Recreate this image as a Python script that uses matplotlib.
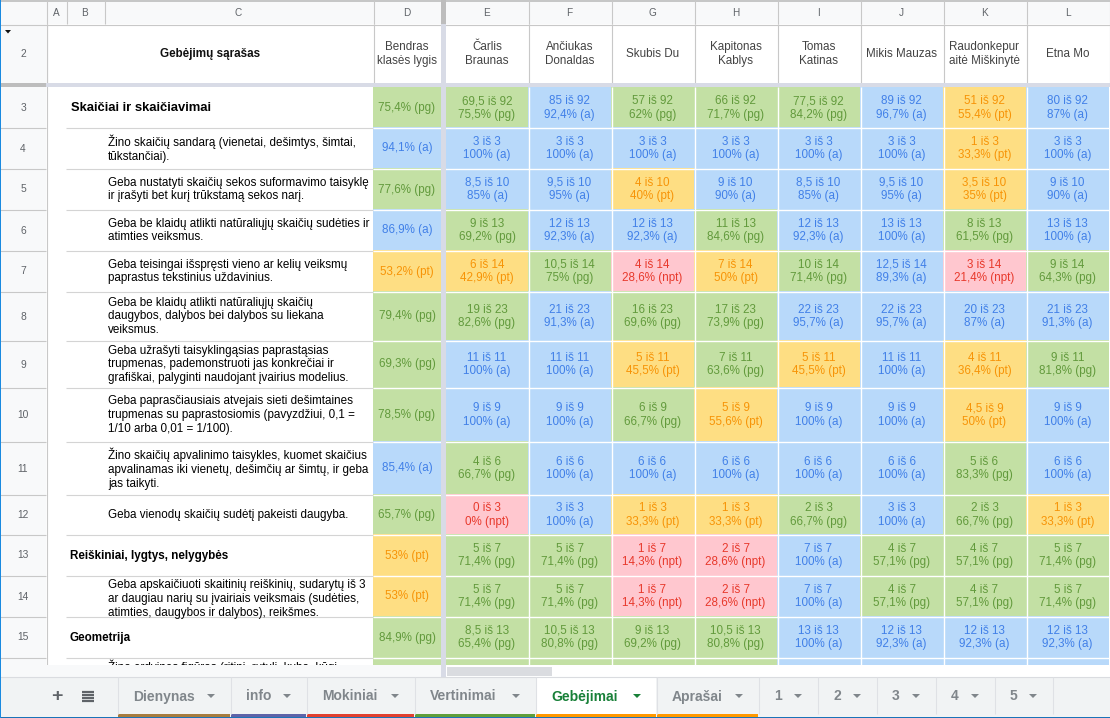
import matplotlib
matplotlib.use("Agg")
import matplotlib.pyplot as plt
from matplotlib.patches import Rectangle, Polygon

plt.rcParams['font.family'] = ['Liberation Sans', 'DejaVu Sans']

column_letters = ["A", "B", "C", "D", "E", "F", "G", "H", "I", "J", "K", "L"]
students = ["Čarlis\nBraunas", "Ančiukas\nDonaldas", "Skubis Du", "Kapitonas\nKablys", "Tomas\nKatinas",
            "Mikis Mauzas", "Raudonkepur\naitė Miškinytė", "Etna Mo"]
row_numbers = [3, 4, 5, 6, 7, 8, 9, 10, 11, 12, 13, 14, 15]
skills = [
    "Skaičiai ir skaičiavimai",
    "Žino skaičių sandarą (vienetai, dešimtys, šimtai,\ntūkstančiai).",
    "Geba nustatyti skaičių sekos suformavimo taisyklę\nir įrašyti bet kurį trūkstamą sekos narį.",
    "Geba be klaidų atlikti natūraliųjų skaičių sudėties ir\natimties veiksmus.",
    "Geba teisingai išspręsti vieno ar kelių veiksmų\npaprastus tekstinius uždavinius.",
    "Geba be klaidų atlikti natūraliųjų skaičių\ndaugybos, dalybos bei dalybos su liekana\nveiksmus.",
    "Geba užrašyti taisyklingąsias paprastąsias\ntrupmenas, pademonstruoti jas konkrečiai ir\ngrafiškai, palyginti naudojant įvairius modelius.",
    "Geba paprasčiausiais atvejais sieti dešimtaines\ntrupmenas su paprastosiomis (pavyzdžiui, 0,1 =\n1/10 arba 0,01 = 1/100).",
    "Žino skaičių apvalinimo taisykles, kuomet skaičius\napvalinamas iki vienetų, dešimčių ar šimtų, ir geba\njas taikyti.",
    "Geba vienodų skaičių sudėtį pakeisti daugyba.",
    "Reiškiniai, lygtys, nelygybės",
    "Geba apskaičiuoti skaitinių reiškinių, sudarytų iš 3\nar daugiau narių su įvairiais veiksmais (sudėties,\natimties, daugybos ir dalybos), reikšmes.",
    "Geometrija",
]
heading_rows = [0, 10, 12]
class_levels = ["75,4% (pg)", "94,1% (a)", "77,6% (pg)", "86,9% (a)", "53,2% (pt)", "79,4% (pg)", "69,3% (pg)",
                "78,5% (pg)", "85,4% (a)", "65,7% (pg)", "53% (pt)", "53% (pt)", "84,9% (pg)"]
scores = [
    ["69,5 iš 92", "85 iš 92", "57 iš 92", "66 iš 92", "77,5 iš 92", "89 iš 92", "51 iš 92", "80 iš 92"],
    ["3 iš 3", "3 iš 3", "3 iš 3", "3 iš 3", "3 iš 3", "3 iš 3", "1 iš 3", "3 iš 3"],
    ["8,5 iš 10", "9,5 iš 10", "4 iš 10", "9 iš 10", "8,5 iš 10", "9,5 iš 10", "3,5 iš 10", "9 iš 10"],
    ["9 iš 13", "12 iš 13", "12 iš 13", "11 iš 13", "12 iš 13", "13 iš 13", "8 iš 13", "13 iš 13"],
    ["6 iš 14", "10,5 iš 14", "4 iš 14", "7 iš 14", "10 iš 14", "12,5 iš 14", "3 iš 14", "9 iš 14"],
    ["19 iš 23", "21 iš 23", "16 iš 23", "17 iš 23", "22 iš 23", "22 iš 23", "20 iš 23", "21 iš 23"],
    ["11 iš 11", "11 iš 11", "5 iš 11", "7 iš 11", "5 iš 11", "11 iš 11", "4 iš 11", "9 iš 11"],
    ["9 iš 9", "9 iš 9", "6 iš 9", "5 iš 9", "9 iš 9", "9 iš 9", "4,5 iš 9", "9 iš 9"],
    ["4 iš 6", "6 iš 6", "6 iš 6", "6 iš 6", "6 iš 6", "6 iš 6", "5 iš 6", "6 iš 6"],
    ["0 iš 3", "3 iš 3", "1 iš 3", "1 iš 3", "2 iš 3", "3 iš 3", "2 iš 3", "1 iš 3"],
    ["5 iš 7", "5 iš 7", "1 iš 7", "2 iš 7", "7 iš 7", "4 iš 7", "4 iš 7", "5 iš 7"],
    ["5 iš 7", "5 iš 7", "1 iš 7", "2 iš 7", "7 iš 7", "4 iš 7", "4 iš 7", "5 iš 7"],
    ["8,5 iš 13", "10,5 iš 13", "9 iš 13", "10,5 iš 13", "13 iš 13", "12 iš 13", "12 iš 13", "12 iš 13"],
]
percents = [
    ["75,5% (pg)", "92,4% (a)", "62% (pg)", "71,7% (pg)", "84,2% (pg)", "96,7% (a)", "55,4% (pt)", "87% (a)"],
    ["100% (a)", "100% (a)", "100% (a)", "100% (a)", "100% (a)", "100% (a)", "33,3% (pt)", "100% (a)"],
    ["85% (a)", "95% (a)", "40% (pt)", "90% (a)", "85% (a)", "95% (a)", "35% (pt)", "90% (a)"],
    ["69,2% (pg)", "92,3% (a)", "92,3% (a)", "84,6% (pg)", "92,3% (a)", "100% (a)", "61,5% (pg)", "100% (a)"],
    ["42,9% (pt)", "75% (pg)", "28,6% (npt)", "50% (pt)", "71,4% (pg)", "89,3% (a)", "21,4% (npt)", "64,3% (pg)"],
    ["82,6% (pg)", "91,3% (a)", "69,6% (pg)", "73,9% (pg)", "95,7% (a)", "95,7% (a)", "87% (a)", "91,3% (a)"],
    ["100% (a)", "100% (a)", "45,5% (pt)", "63,6% (pg)", "45,5% (pt)", "100% (a)", "36,4% (pt)", "81,8% (pg)"],
    ["100% (a)", "100% (a)", "66,7% (pg)", "55,6% (pt)", "100% (a)", "100% (a)", "50% (pt)", "100% (a)"],
    ["66,7% (pg)", "100% (a)", "100% (a)", "100% (a)", "100% (a)", "100% (a)", "83,3% (pg)", "100% (a)"],
    ["0% (npt)", "100% (a)", "33,3% (pt)", "33,3% (pt)", "66,7% (pg)", "100% (a)", "66,7% (pg)", "33,3% (pt)"],
    ["71,4% (pg)", "71,4% (pg)", "14,3% (npt)", "28,6% (npt)", "100% (a)", "57,1% (pg)", "57,1% (pg)", "71,4% (pg)"],
    ["71,4% (pg)", "71,4% (pg)", "14,3% (npt)", "28,6% (npt)", "100% (a)", "57,1% (pg)", "57,1% (pg)", "71,4% (pg)"],
    ["65,4% (pg)", "80,8% (pg)", "69,2% (pg)", "80,8% (pg)", "100% (a)", "92,3% (a)", "92,3% (a)", "92,3% (a)"],
]
partial_row_levels = ["pg", "pg", "pg", "pg", "pg", "a", "a", "a", "a"]
partial_row_text = "Žino erdvines figūras (ritinį, rutulį, kubą, kūgį"
tab_names = ["Dienynas", "info", "Mokiniai", "Vertinimai", "Gebėjimai", "Aprašai", "1", "2", "3", "4", "5"]

# --- layout (pixels) ---
col_edges = [46, 66, 104, 373, 441, 528, 611, 694, 777, 860, 943, 1026, 1109]
row_edges = [87, 127, 168, 209, 250, 291, 340, 387, 441, 494, 534, 575, 616, 657]
bottom_clip = 665
tab_edges = [118, 231, 307, 415, 536, 657, 759, 818, 877, 936, 995, 1053]
tab_colors = ["#a67c3f", "#5e63a8", "#e0402f", "#5f9e3a", "#ff9800", "#ff9800", None, None, None, None, None]
fills = {"a": "#b8d9fa", "pg": "#c3e0a4", "pt": "#fede83", "npt": "#ffc7cf"}
inks = {"a": "#4180e8", "pg": "#629a3c", "pt": "#f79407", "npt": "#e8392c"}
GRID = "#c8c8c8"
HDR = "#f8f9fa"
GREY = "#5f6368"
FS = 8.35
LS = 1.2


def level_of(s):
    return s[s.index("(") + 1:s.index(")")]


fig = plt.figure(figsize=(11.10, 7.18), dpi=100)
ax = fig.add_axes([0, 0, 1, 1])
ax.set_xlim(0, 1110)
ax.set_ylim(718, 0)
ax.axis("off")


def rect(x0, y0, x1, y1, c, z=1):
    ax.add_patch(Rectangle((x0, y0), x1 - x0, y1 - y0, fc=c, ec="none", lw=0, zorder=z))


def hline(y, x0, x1, c=GRID, lw=0.8, z=3):
    ax.plot([x0, x1], [y, y], color=c, lw=lw, zorder=z, solid_capstyle="butt")


def vline(x, y0, y1, c=GRID, lw=0.8, z=3):
    ax.plot([x, x], [y0, y1], color=c, lw=lw, zorder=z, solid_capstyle="butt")


# column header strip
rect(0, 0, 1110, 24, HDR)
rect(0, 24, 46, bottom_clip, HDR)
centers = [(col_edges[i] + col_edges[i + 1]) / 2 for i in range(4)]
centers[3] = 407
for i in range(8):
    centers.append((([446] + col_edges[5:])[i] + ([446] + col_edges[5:])[i + 1]) / 2)
for name, cx in zip(column_letters, centers):
    ax.text(cx, 12.5, name, ha="center", va="center", fontsize=7.2, color=GREY)
hline(0.5, 0, 1110, "#bdbdbd", 1.2)
hline(24.5, 0, 1110)
for x in [46, 66, 104, 373, 528, 611, 694, 777, 860, 943, 1026, 1109]:
    vline(x + .5, 0, 24)
for x in [46, 373, 528, 611, 694, 777, 860, 943, 1026, 1109]:
    vline(x + .5, 24, 83)

# frozen header row
ax.add_patch(Polygon([[5, 30], [11, 30], [8, 33.5]], fc="#111111", ec="none", zorder=4))
ax.text(23, 54, "2", ha="center", va="center", fontsize=7.4, color=GREY)
ax.text(210, 54, "Gebėjimų sąrašas", ha="center", va="center", fontsize=FS, fontweight="bold", color="#111111")
ax.text(407, 54, "Bendras\nklasės lygis", ha="center", va="center", fontsize=FS, color="#434343", linespacing=LS)
for i, s in enumerate(students):
    cx = centers[4 + i]
    ax.text(cx, 54, s, ha="center", va="center", fontsize=FS, color="#434343", linespacing=LS)

# body cells
row_spans = list(zip(row_edges[:-1], row_edges[1:]))
xs = [373, 441] + [446] + col_edges[5:]
for r, (y0, y1) in enumerate(row_spans):
    ym = (y0 + y1) / 2 + 1
    ax.text(23, ym, str(row_numbers[r]), ha="center", va="center", fontsize=7.4, color=GREY)
    hline(y1 + .5, 0, 46)
    hline(y1 + .5, 66, 373, "#d4d4d4")
    cell = Rectangle((104, y0), 269, y1 - y0, transform=ax.transData)
    if r in heading_rows:
        size = 9.4 if r == 0 else FS
        ax.text(71 if r == 0 else 70, ym, skills[r], ha="left", va="center", fontsize=size, fontweight="bold",
                color="#000000")
    else:
        tight = skills[r].count("\n") == 2 and y1 - y0 == 41
        t = ax.text(108, y0 + 4 if tight else ym, skills[r], ha="left", va="top" if tight else "center",
                    fontsize=FS, color="#000000", linespacing=LS)
        t.set_clip_path(cell)
    lv = level_of(class_levels[r])
    rect(373, y0, 441, y1, fills[lv], 2)
    ax.text(407, ym, class_levels[r], ha="center", va="center", fontsize=FS, color=inks[lv])
    for c in range(8):
        lv = level_of(percents[r][c])
        x0, x1 = xs[c + 2], xs[c + 3]
        rect(x0, y0, x1, y1, fills[lv], 2)
        ax.text((x0 + x1) / 2, ym, scores[r][c] + "\n" + percents[r][c], ha="center", va="center", fontsize=FS,
                color=inks[lv], linespacing=LS, zorder=4)

# clipped last row
y0 = row_edges[-1]
t = ax.text(108, y0 + 3, partial_row_text, ha="left", va="top", fontsize=FS, color="#000000")
t.set_clip_path(Rectangle((104, y0), 269, bottom_clip - y0, transform=ax.transData))
rect(373, y0, 441, bottom_clip, fills[partial_row_levels[0]], 2)
for c in range(8):
    rect(xs[c + 2], y0, xs[c + 3], bottom_clip, fills[partial_row_levels[c + 1]], 2)

# white cell separators
for x in [528, 611, 694, 777, 860, 943, 1026]:
    vline(x + .5, 87, bottom_clip, "#ffffff", 1.0, 3)
for y in row_edges[1:]:
    hline(y + .5, 373, 1110, "#ffffff", 1.0, 3)
vline(46.5, 24, bottom_clip, GRID)

# freeze bars
rect(441, 0, 446, bottom_clip, "#d8dbe6", 5)
rect(441, 0, 446, 24, "#bdbdbd", 6)
rect(46, 83, 1110, 87, "#d8dbe6", 5)
rect(0, 83, 46, 87, "#bdbdbd", 6)

# scrollbar
rect(0, 665, 441, 677, "#f8f9fa", 6)
rect(441, 665, 446, 677, "#d8dbe6", 7)
rect(446, 665, 1110, 677, "#ffffff", 6)
ax.add_patch(Rectangle((447, 667), 105, 9, fc="#dadce0", ec="none", zorder=8))
hline(677, 0, 1110, "#dadce0", 0.8, 8)

# tabs
rect(0, 677, 1110, 718, "#f1f3f4", 6)
for i, name in enumerate(tab_names):
    x0, x1 = tab_edges[i], tab_edges[i + 1] - 1
    active = name == "Gebėjimai"
    if active:
        rect(x0, 677, x1, 718, "#ffffff", 7)
    if tab_colors[i]:
        rect(x0, 714, x1, 717, tab_colors[i], 8)
    vline(x0 - .5, 677, 714, "#dfe1e5", 0.8, 8)
    col = "#188038" if active else "#80868b"
    ax.text(x0 + 15, 696.5, name, ha="left", va="center", fontsize=10, fontweight="bold", color=col, zorder=9)
    ax.add_patch(Polygon([[x1 - 23, 694], [x1 - 15, 694], [x1 - 19, 698]], fc="#188038" if active else "#80868b",
                         ec="none", zorder=9))
vline(1052.5, 677, 714, "#dfe1e5", 0.8, 8)
ax.text(57, 696, "+", ha="center", va="center", fontsize=14, fontweight="bold", color="#5f6368", zorder=9)
for y in [691.5, 694.5, 697.5, 700.5]:
    hline(y, 82, 94, "#5f6368", 1.6, 9)

# window edges
rect(0, 717, 1110, 718, "#1a73b8", 10)
rect(0, 0, 1.2, 718, "#1a8ae0", 10)

fig.savefig("out.png", dpi=100)
